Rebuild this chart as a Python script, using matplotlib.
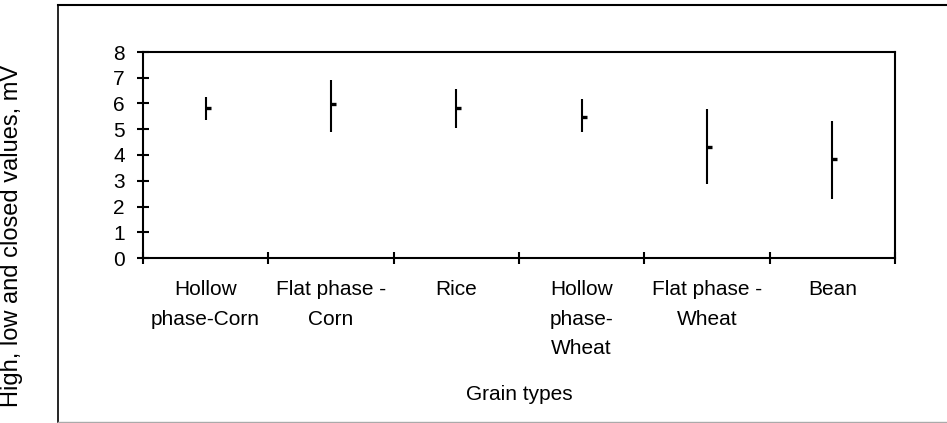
import numpy as np
import matplotlib
matplotlib.use("Agg")
import matplotlib.pyplot as plt
from matplotlib.lines import Line2D

plt.rcParams['font.family'] = ['Liberation Sans', 'DejaVu Sans']

# datos
categorias = ['Hollow\nphase-Corn', 'Flat phase -\nCorn', 'Rice',
              'Hollow\nphase-\nWheat', 'Flat phase -\nWheat', 'Bean']
altos = [6.26, 6.91, 6.55, 6.17, 5.79, 5.33]
bajos = [5.36, 4.91, 5.04, 4.91, 2.87, 2.28]
cierres = [5.81, 5.98, 5.81, 5.49, 4.30, 3.84]
y_ticks = [0, 1, 2, 3, 4, 5, 6, 7, 8]

fig = plt.figure(figsize=(9.47, 4.23), dpi=100)
ax = fig.add_axes([143 / 947, 1 - 258 / 423, (895 - 143) / 947, (258 - 52) / 423])

x = np.arange(1, len(categorias) + 1)
ax.vlines(x, bajos, altos, color='black', linewidth=1.5)
# marca de cierre hacia la derecha
ax.plot(x, cierres, linestyle='none', marker=1, markersize=3.5,
        markeredgewidth=2.4, color='black')

ax.set_xlim(0.5, len(categorias) + 0.5)
ax.set_ylim(0, 8)
ax.set_yticks(y_ticks)
ax.set_xticks(x)
ax.set_xticklabels(categorias, fontsize=15, linespacing=1.7, va='top')
ax.set_xticks(np.arange(0.5, len(categorias) + 1), minor=True)

ax.tick_params(axis='x', which='major', length=0, pad=16)
ax.tick_params(axis='x', which='minor', direction='inout', length=8, width=1.5)
ax.tick_params(axis='y', direction='inout', length=8, width=1.5,
               labelsize=15, pad=9)

for lado in ax.spines.values():
    lado.set_linewidth(1.5)

ax.set_xlabel('Grain types', fontsize=15, labelpad=19)
fig.text(12 / 947, 1 - 236 / 423, 'High, low and closed values, mV',
         rotation=90, fontsize=17, ha='center', va='center')

# marco exterior del grafico
fig.add_artist(Line2D([58 / 947, 58 / 947], [1 - 5 / 423, 1 - 422 / 423],
                      transform=fig.transFigure, color='black', linewidth=1.2))
fig.add_artist(Line2D([58 / 947, 1], [1 - 5 / 423, 1 - 5 / 423],
                      transform=fig.transFigure, color='black', linewidth=1.5))
fig.add_artist(Line2D([58 / 947, 1], [1 - 422 / 423, 1 - 422 / 423],
                      transform=fig.transFigure, color='#aaaaaa', linewidth=1))

fig.savefig('out.png', dpi=100)
